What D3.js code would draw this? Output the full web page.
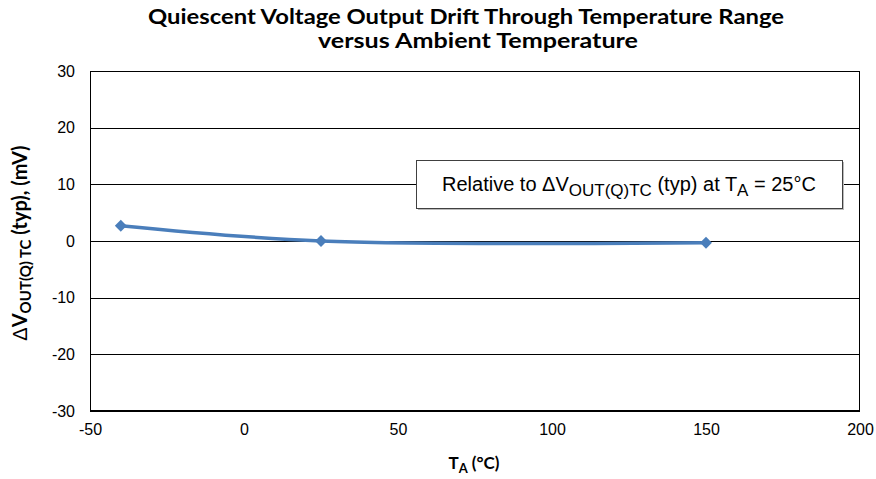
<!DOCTYPE html>
<html>
<head>
<meta charset="utf-8">
<script src="https://cdn.jsdelivr.net/npm/d3@7"></script>
<style>
  body { margin: 0; background: #fff; }
  svg { display: block; }
</style>
</head>
<body>
<svg width="876" height="479"></svg>
<script>
// values
var temps = [-40, 25, 150]
var drift = [2.7, 0, -0.3]
var xTicks = [-50, 0, 50, 100, 150, 200]
var yTicks = [-30, -20, -10, 0, 10, 20, 30]

var svg = d3.select('svg')
var margin = { top: 71, right: 16, bottom: 68, left: 90 }
var width = 876 - margin.left - margin.right
var height = 479 - margin.top - margin.bottom

var x = d3.scaleLinear().domain([-50, 200]).range([0, width])
var y = d3.scaleLinear().domain([-30, 30]).range([height, 0])

var chart = svg.append('g')
  .attr('transform', 'translate(' + margin.left + ',' + margin.top + ')')

// horizontal grid lines
chart.append('g')
  .selectAll('line')
  .data(yTicks)
  .enter()
  .append('line')
  .attr('x1', 0)
  .attr('x2', width)
  .attr('y1', d => Math.round(y(d)) + 0.5)
  .attr('y2', d => Math.round(y(d)) + 0.5)
  .attr('stroke', '#000')
  .attr('stroke-width', 1)

// plot border
chart.append('rect')
  .attr('x', 0.5)
  .attr('y', 0.5)
  .attr('width', width - 1)
  .attr('height', height - 1)
  .attr('fill', 'none')
  .attr('stroke', '#000')

// plain hyphen minus like the original, not d3's unicode minus
var fmt = d => String(d)

// y axis labels
var yAxis = chart.append('g')
  .call(d3.axisLeft(y).tickValues(yTicks).tickFormat(fmt).tickSize(0).tickPadding(15))
yAxis.select('.domain').remove()
yAxis.selectAll('text')
  .attr('font-family', 'Liberation Sans, Arial, sans-serif')
  .attr('font-size', 16)
  .attr('fill', '#000')

// x axis labels
var xAxis = chart.append('g')
  .attr('transform', 'translate(0,' + height + ')')
  .call(d3.axisBottom(x).tickValues(xTicks).tickFormat(fmt).tickSize(0).tickPadding(13))
xAxis.select('.domain').remove()
xAxis.selectAll('text')
  .attr('font-family', 'Liberation Sans, Arial, sans-serif')
  .attr('font-size', 16)
  .attr('fill', '#000')

// the data line, smoothed like the original
var points = temps.map((t, i) => [t, drift[i]])
var line = d3.line()
  .x(d => x(d[0]))
  .y(d => y(d[1]))
  .curve(d3.curveCatmullRom.alpha(0.5))

chart.append('path')
  .datum(points)
  .attr('d', line)
  .attr('fill', 'none')
  .attr('stroke', '#4a7ebb')
  .attr('stroke-width', 3.5)

chart.selectAll('.marker')
  .data(points)
  .enter()
  .append('path')
  .attr('class', 'marker')
  .attr('d', d3.symbol().type(d3.symbolDiamond2).size(90))
  .attr('transform', d => 'translate(' + x(d[0]) + ',' + y(d[1]) + ')')
  .attr('fill', '#4a7ebb')

// annotation box
var box = chart.append('g')
  .attr('transform', 'translate(' + Math.round(x(56)) + ',' + Math.round(y(14.3)) + ')')
box.append('rect')
  .attr('x', 2)
  .attr('y', 2)
  .attr('width', 426)
  .attr('height', 48)
  .attr('fill', '#bbb')
box.append('rect')
  .attr('x', 0.5)
  .attr('y', 0.5)
  .attr('width', 426)
  .attr('height', 48)
  .attr('fill', '#fff')
  .attr('stroke', '#404040')
var note = box.append('text')
  .attr('x', 213)
  .attr('y', 31)
  .attr('text-anchor', 'middle')
  .attr('font-family', 'Liberation Sans, Arial, sans-serif')
  .attr('font-size', 20)
  .attr('fill', '#000')
note.append('tspan').text('Relative to \u0394V')
note.append('tspan').attr('dy', 5).attr('font-size', 17).text('OUT(Q)TC')
note.append('tspan').attr('dy', -5).text(' (typ) at T')
note.append('tspan').attr('dy', 5).attr('font-size', 17).text('A')
note.append('tspan').attr('dy', -5).text(' = 25\u00b0C')

// title
var title = svg.append('text')
  .attr('text-anchor', 'middle')
  .attr('font-family', 'Lato, sans-serif')
  .attr('font-weight', 'bold')
  .attr('font-size', 20)
  .attr('fill', '#000')
title.append('tspan').attr('x', 466).attr('y', 24)
  .attr('textLength', 636).attr('lengthAdjust', 'spacingAndGlyphs')
  .text('Quiescent Voltage Output Drift Through Temperature Range')
title.append('tspan').attr('x', 478).attr('y', 48)
  .attr('textLength', 320).attr('lengthAdjust', 'spacingAndGlyphs')
  .text('versus Ambient Temperature')

// x axis title
var xTitle = svg.append('text')
  .attr('x', 474)
  .attr('y', 469)
  .attr('text-anchor', 'middle')
  .attr('font-family', 'Lato, sans-serif')
  .attr('font-weight', 'bold')
  .attr('font-size', 17)
  .attr('fill', '#000')
xTitle.append('tspan').text('T')
xTitle.append('tspan').attr('dy', 4).attr('font-size', 13).text('A')
xTitle.append('tspan').attr('dy', -4).text(' (\u00b0C)')

// y axis title
var yTitle = svg.append('text')
  .attr('transform', 'translate(27,' + (margin.top + height / 2 + 2) + ') rotate(-90)')
  .attr('text-anchor', 'middle')
  .attr('font-family', 'Lato, sans-serif')
  .attr('font-weight', 'bold')
  .attr('font-size', 20)
  .attr('fill', '#000')
yTitle.append('tspan').attr('font-family', 'Liberation Sans, Arial, sans-serif')
  .attr('font-weight', 'normal').text('\u0394')
yTitle.append('tspan').text('V')
yTitle.append('tspan').attr('dy', 4).attr('font-size', 15).text('OUT(Q) TC')
yTitle.append('tspan').attr('dy', -4).text(' (typ), (mV)')
</script>
</body>
</html>
